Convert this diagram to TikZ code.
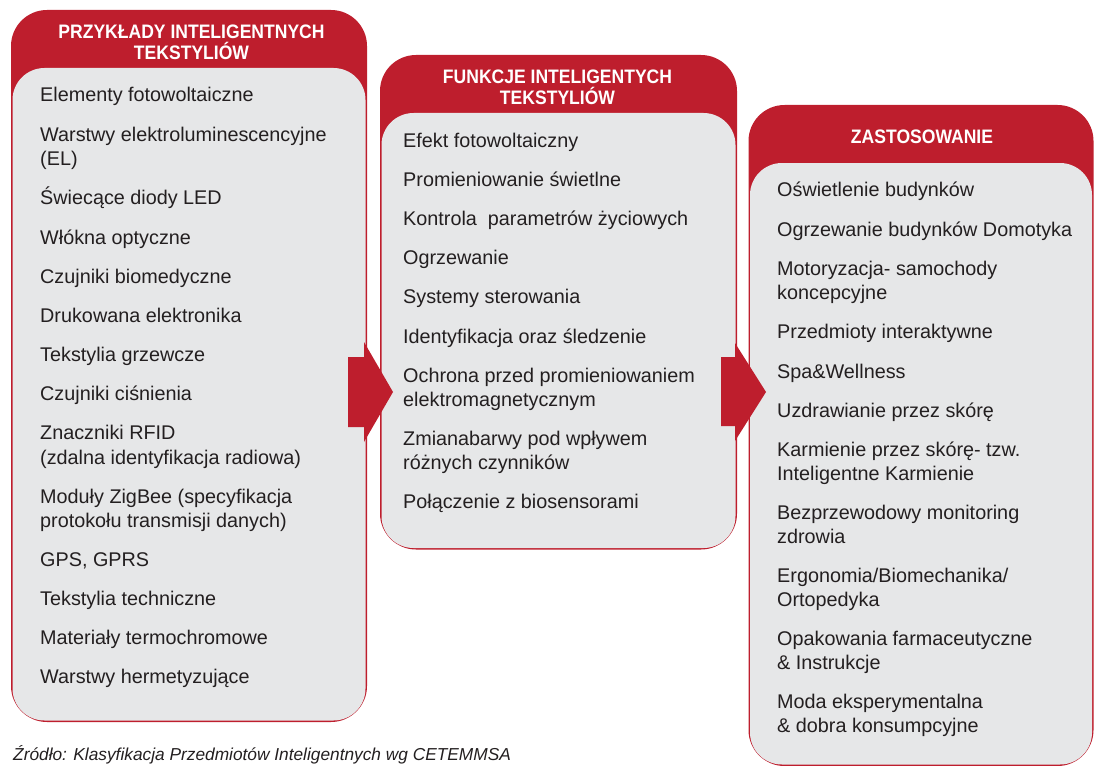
\documentclass[tikz,border=0pt]{standalone}
\usepackage{fontspec}
\setmainfont{Liberation Sans}
\newfontfamily\headfont[FakeStretch=0.9]{Liberation Sans}
\definecolor{pred}{HTML}{BE1E2D}
\definecolor{pgrey}{HTML}{E6E7E8}
\definecolor{ptext}{HTML}{231F20}
\begin{document}
\begin{tikzpicture}[x=1pt,y=-1pt,
  outer/.style={fill=pred, rounded corners=36pt},
  inner/.style={fill=pgrey, rounded corners=32pt},
  item/.style={anchor=base west, inner sep=0pt, text=ptext, font=\fontsize{19.8}{24}\selectfont},
  head/.style={anchor=base, inner sep=0pt, text=white, font=\headfont\bfseries\fontsize{19.5}{21}\selectfont},
  blockarrow/.style={fill=pred},
  source/.style={anchor=base west, inner sep=0pt, text=ptext, font=\itshape\fontsize{17.3}{20}\selectfont}]
\useasboundingbox (0,0) rectangle (1094,765);
\clip (0,0) rectangle (1094,765);
% panel 1
\fill[outer] (11,10) rectangle (367,722);
\fill[inner] (12.5,68) rectangle (365.5,720.5);
% panel 2
\fill[outer] (380,55) rectangle (737,549.5);
\fill[inner] (381.5,113) rectangle (735.5,548);
% panel 3
\fill[outer] (748.5,105) rectangle (1093.5,766);
\fill[inner] (750,163) rectangle (1092,764.5);
% arrows
\fill[blockarrow] (348,357) -- (364,357) -- (364,342) -- (393,392) -- (364,442) -- (364,427) -- (348,427) -- cycle;
\fill[blockarrow] (721,357) -- (735,357) -- (735,343) -- (766,392) -- (735,441) -- (735,426) -- (721,426) -- cycle;
% headers
\node[head] (h1a) at (191.5,38.3) {PRZYKŁADY INTELIGENTNYCH};
\node[head] (h1b) at (191.5,60) {TEKSTYLIÓW};
\node[head] (h2a) at (557.5,83.3) {FUNKCJE INTELIGENTYCH};
\node[head] (h2b) at (557.5,104.5) {TEKSTYLIÓW};
\node[head] (h3a) at (922,143) {ZASTOSOWANIE};
% left items
\node[item] (a1) at (40,102) {Elementy fotowoltaiczne};
\node[item] (a2) at (40,141) {Warstwy elektroluminescencyjne};
\node[item] (a2b) at (40,165) {(EL)};
\node[item] (a3) at (40,204) {Świecące diody LED};
\node[item] (a4) at (40,244) {Włókna optyczne};
\node[item] (a5) at (40,283) {Czujniki biomedyczne};
\node[item] (a6) at (40,322) {Drukowana elektronika};
\node[item] (a7) at (40,361) {Tekstylia grzewcze};
\node[item] (a8) at (40,400) {Czujniki ciśnienia};
\node[item] (a9) at (40,439) {Znaczniki RFID};
\node[item] (a9b) at (40,464) {(zdalna identyfikacja radiowa)};
\node[item] (a10) at (40,503) {Moduły ZigBee (specyfikacja};
\node[item] (a10b) at (40,527) {protokołu transmisji danych)};
\node[item] (a11) at (40,566) {GPS, GPRS};
\node[item] (a12) at (40,605) {Tekstylia techniczne};
\node[item] (a13) at (40,644) {Materiały termochromowe};
\node[item] (a14) at (40,683) {Warstwy hermetyzujące};
% middle items
\node[item] (b1) at (403,147) {Efekt fotowoltaiczny};
\node[item] (b2) at (403,186) {Promieniowanie świetlne};
\node[item] (b3) at (403,225) {Kontrola\ \ parametrów życiowych};
\node[item] (b4) at (403,264) {Ogrzewanie};
\node[item] (b5) at (403,303) {Systemy sterowania};
\node[item] (b6) at (403,343) {Identyfikacja oraz śledzenie};
\node[item] (b7) at (403,382) {Ochrona przed promieniowaniem};
\node[item] (b7b) at (403,406) {elektromagnetycznym};
\node[item] (b8) at (403,445) {Zmianabarwy pod wpływem};
\node[item] (b8b) at (403,469) {różnych czynników};
\node[item] (b9) at (403,508) {Połączenie z biosensorami};
% right items
\node[item] (c1) at (777,196) {Oświetlenie budynków};
\node[item] (c2) at (777,236) {Ogrzewanie budynków Domotyka};
\node[item] (c3) at (777,275) {Motoryzacja- samochody};
\node[item] (c3b) at (777,299) {koncepcyjne};
\node[item] (c4) at (777,338) {Przedmioty interaktywne};
\node[item] (c5) at (777,378) {Spa\&Wellness};
\node[item] (c6) at (777,417) {Uzdrawianie przez skórę};
\node[item] (c7) at (777,456) {Karmienie przez skórę- tzw.};
\node[item] (c7b) at (777,480) {Inteligentne Karmienie};
\node[item] (c8) at (777,519) {Bezprzewodowy monitoring};
\node[item] (c8b) at (777,543) {zdrowia};
\node[item] (c9) at (777,582) {Ergonomia/Biomechanika/};
\node[item] (c9b) at (777,606) {Ortopedyka};
\node[item] (c10) at (777,645) {Opakowania farmaceutyczne};
\node[item] (c10b) at (777,669) {\& Instrukcje};
\node[item] (c11) at (777,708) {Moda eksperymentalna};
\node[item] (c11b) at (777,732) {\& dobra konsumpcyjne};
% source
\node[source] (src) at (13,760.5) {Źródło: Klasyfikacja Przedmiotów Inteligentnych wg CETEMMSA};
\end{tikzpicture}
\end{document}
